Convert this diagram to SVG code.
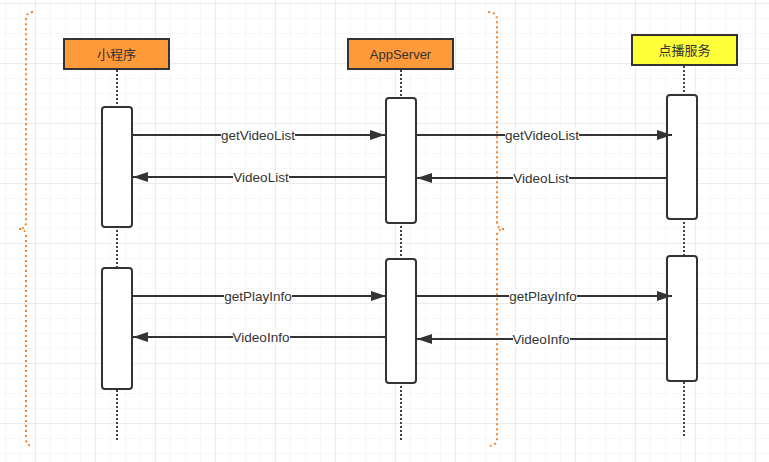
<svg xmlns="http://www.w3.org/2000/svg" width="769" height="462" viewBox="0 0 769 462">
<defs>
<pattern id="minor" x="5" y="3" width="15" height="15" patternUnits="userSpaceOnUse">
<path d="M0,0 L15,0 M0,0 L0,15" fill="none" stroke="#efefef" stroke-width="1"/>
</pattern>
<pattern id="major" x="35" y="3" width="60" height="60" patternUnits="userSpaceOnUse">
<path d="M0,0 L60,0 M0,0 L0,60" fill="none" stroke="#e2e2e2" stroke-width="1"/>
</pattern>
<marker id="arr" markerUnits="userSpaceOnUse" markerWidth="16" markerHeight="12" refX="15" refY="5" orient="auto">
<path d="M0,0 L15,5 L0,10 z" fill="#333"/>
</marker>
<style>
.node{stroke:#333;stroke-width:2}
.nlabel{font-family:"Liberation Sans","Noto Sans CJK SC",sans-serif;font-size:13px;fill:#333;text-anchor:middle}
.life{stroke:#444;stroke-width:2;stroke-dasharray:2 2;fill:none}
.act{fill:#fff;stroke:#333;stroke-width:2}
.msg{stroke:#333;stroke-width:2;fill:none;marker-end:url(#arr)}
.lbl{font-family:"Liberation Sans",sans-serif;font-size:13.5px;fill:#333;text-anchor:middle}
.lbg{fill:#fff}
.brace{fill:none;stroke:#ED8530;stroke-width:2;stroke-dasharray:2 3}
</style>
</defs>
<rect width="769" height="462" fill="#fff"/>
<rect width="769" height="462" fill="url(#minor)"/>
<rect width="769" height="462" fill="url(#major)"/>

<g id="braces">
<path class="brace" d="M33,12 Q26,12 26,20 L26,222 Q26,229 19,229 Q26,229 26,236 L26,438 Q26,446 33,446"/>
<path class="brace" d="M488,12 Q497,12 497,20 L497,222 Q497,229 504,229 Q497,229 497,236 L497,438 Q497,446 488,446"/>
</g>

<g id="lifelines">
<line class="life" x1="117" y1="70" x2="117" y2="440"/>
<line class="life" x1="401" y1="70" x2="401" y2="440"/>
<line class="life" x1="684" y1="66" x2="684" y2="436"/>
</g>

<g id="node-miniprogram">
<rect class="node" x="64" y="39" width="105" height="30" fill="#FF9A3A"/>
<text class="nlabel" x="116.5" y="58.5">小程序</text>
<rect class="act" x="102" y="107" width="30" height="120" rx="3"/>
<rect class="act" x="102" y="268" width="30" height="121" rx="3"/>
</g>

<g id="node-appserver">
<rect class="node" x="348" y="39" width="105" height="30" fill="#FF9A3A"/>
<text class="nlabel" x="400.5" y="58.5">AppServer</text>
<rect class="act" x="386" y="98" width="30" height="125" rx="3"/>
<rect class="act" x="386" y="259" width="30" height="124" rx="3"/>
</g>

<g id="node-vod">
<rect class="node" x="632" y="35" width="105" height="30" fill="#FFFF3A"/>
<text class="nlabel" x="684.5" y="54.5">点播服务</text>
<rect class="act" x="667" y="95" width="30" height="124" rx="3"/>
<rect class="act" x="667" y="256" width="30" height="125" rx="3"/>
</g>

<g id="connectors">
<line class="msg" x1="132" y1="135" x2="385" y2="135"/>
<rect class="lbg" x="221" y="128" width="74" height="14"/>
<text class="lbl" x="258" y="140">getVideoList</text>

<line class="msg" x1="386" y1="177" x2="133" y2="177"/>
<rect class="lbg" x="233" y="170" width="56" height="14"/>
<text class="lbl" x="261" y="182">VideoList</text>

<line class="msg" x1="416" y1="135" x2="672" y2="135"/>
<rect class="lbg" x="505" y="128" width="74" height="14"/>
<text class="lbl" x="542" y="140">getVideoList</text>

<line class="msg" x1="667" y1="178" x2="417" y2="178"/>
<rect class="lbg" x="513" y="171" width="56" height="14"/>
<text class="lbl" x="541" y="183">VideoList</text>

<line class="msg" x1="132" y1="296" x2="386" y2="296"/>
<rect class="lbg" x="224" y="289" width="68" height="14"/>
<text class="lbl" x="258" y="301">getPlayInfo</text>

<line class="msg" x1="386" y1="337" x2="133" y2="337"/>
<rect class="lbg" x="233" y="330" width="57" height="14"/>
<text class="lbl" x="261" y="342">VideoInfo</text>

<line class="msg" x1="416" y1="296" x2="672" y2="296"/>
<rect class="lbg" x="509" y="289" width="68" height="14"/>
<text class="lbl" x="543" y="301">getPlayInfo</text>

<line class="msg" x1="667" y1="339" x2="417" y2="339"/>
<rect class="lbg" x="513" y="332" width="57" height="14"/>
<text class="lbl" x="541" y="344">VideoInfo</text>
</g>
</svg>
